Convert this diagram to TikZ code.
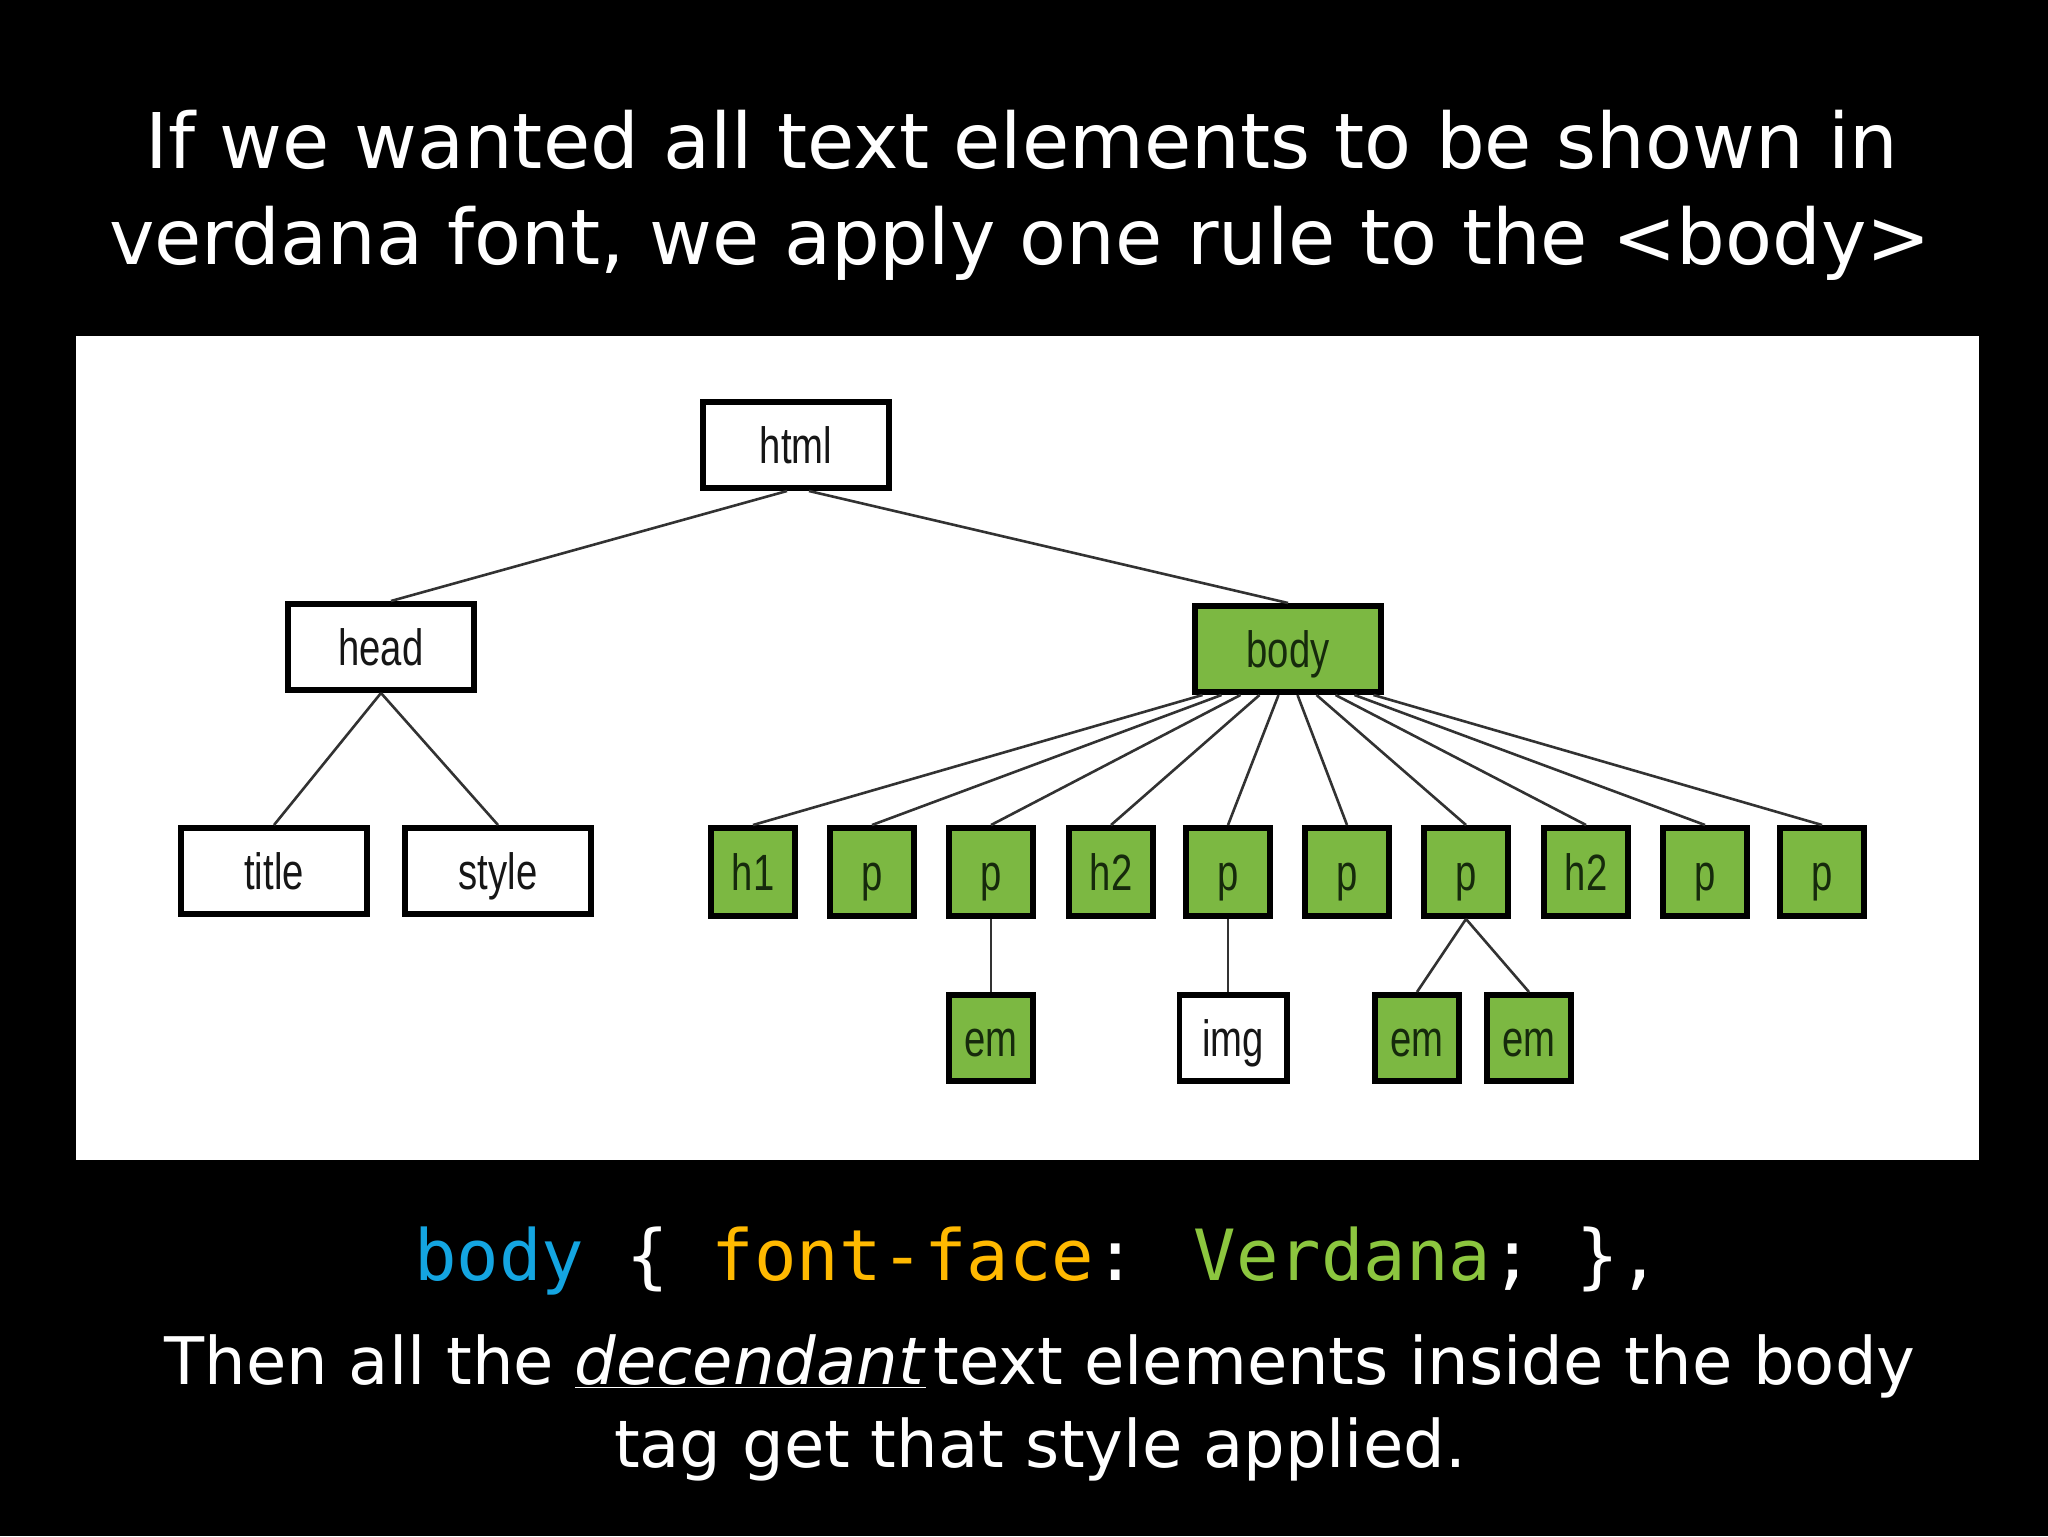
\documentclass[tikz,border=0pt]{standalone}
\usepackage{fontspec}
\setmainfont{DejaVu Sans}
\newfontfamily\boxfont[FakeStretch=0.75]{Liberation Sans}
\newfontfamily\codefont{DejaVu Sans Mono}
\usetikzlibrary{calc}
\definecolor{leaf}{RGB}{124,184,66}
\definecolor{boxink}{RGB}{22,22,22}
\definecolor{leafink}{RGB}{22,42,12}
\definecolor{linkgray}{RGB}{50,50,50}
\definecolor{cssblue}{RGB}{20,165,225}
\definecolor{cssorange}{RGB}{255,185,0}
\definecolor{cssgreen}{RGB}{140,198,63}
\tikzset{
  tag/.style={draw=black, line width=2.8pt, fill=white, inner sep=0pt,
    font=\boxfont\fontsize{25.5}{25.5}\selectfont, text=boxink,
    text height=18.5pt, text depth=0pt,
    minimum width=93.2pt, minimum height=43.2pt},
  leafbox/.style={tag, fill=leaf, text=leafink},
  narrowbox/.style={minimum width=42.2pt, minimum height=44.2pt},
  lowbox/.style={minimum width=42.2pt, minimum height=43.2pt},
  link/.style={draw=linkgray, line width=1.3pt},
  headline/.style={anchor=base, inner sep=0pt, text=white,
    font=\fontsize{38.4}{38.4}\selectfont},
  footline/.style={anchor=base, inner sep=0pt, text=white,
    font=\fontsize{32.8}{32.8}\selectfont},
}
\begin{document}
\begin{tikzpicture}[x=0.5pt,y=-0.5pt]
\useasboundingbox (0,0) rectangle (2048,1536);
\fill[black] (0,0) rectangle (2048,1536);
\fill[white] (76,336) rectangle (1979,1160);

% headings
\node[headline] (t1) at (1022,168) {If we wanted all text elements to be shown in};
\node[headline] (t2) at (1020,264) {verdana font, we apply one rule to the <body>};

% tree
\node[tag] (html) at (796,445) {html};
\node[tag] (head) at (381,647) {head};
\node[leafbox] (body) at (1288,649) {body};
\node[tag] (title) at (274,871) {title};
\node[tag] (style) at (498,871) {style};

\node[leafbox,narrowbox] (r1) at (753,872) {h1};
\node[leafbox,narrowbox] (r2) at (872,872) {p};
\node[leafbox,narrowbox] (r3) at (991,872) {p};
\node[leafbox,narrowbox] (r4) at (1111,872) {h2};
\node[leafbox,narrowbox] (r5) at (1228,872) {p};
\node[leafbox,narrowbox] (r6) at (1347,872) {p};
\node[leafbox,narrowbox] (r7) at (1466,872) {p};
\node[leafbox,narrowbox] (r8) at (1586,872) {h2};
\node[leafbox,narrowbox] (r9) at (1705,872) {p};
\node[leafbox,narrowbox] (r10) at (1822,872) {p};

\node[leafbox,lowbox] (em1) at (991,1038) {em};
\node[tag,lowbox,minimum width=53.7pt] (img) at (1233,1038) {img};
\node[leafbox,lowbox] (em2) at (1417,1038) {em};
\node[leafbox,lowbox] (em3) at (1529,1038) {em};

% connectors
\draw[link] ($(html.south)+(-9,0)$) -- ($(head.north)+(10,0)$);
\draw[link] ($(html.south)+(13,0)$) -- (body.north);
\draw[link] (head.south) -- (title.north);
\draw[link] (head.south) -- (style.north);
\foreach \n [count=\k from 0] in {r1,r2,r3,r4,r5,r6,r7,r8,r9,r10}
  \draw[link] ($(body.south)+({(\k-4.5)*19},0)$) -- (\n.north);
\draw[link] (r3.south) -- (em1.north);
\draw[link] (r5.south) -- (r5.south |- img.north);
\draw[link] (r7.south) -- (em2.north);
\draw[link] (r7.south) -- (em3.north);

% code line
\node[anchor=base west, inner sep=0pt, text=white,
  font=\codefont\fontsize{35.3}{35.3}\selectfont] (code) at (414,1280)
  {\textcolor{cssblue}{body} \{ \textcolor{cssorange}{font-face}: \textcolor{cssgreen}{Verdana}; \},};

% footer
\node[footline] (f1) at (1040,1384) {Then all the \underline{\textit{decendant}}\hspace{0.12em}text elements inside the body};
\node[footline] (f2) at (1040,1467) {tag get that style applied.};
\end{tikzpicture}
\end{document}
